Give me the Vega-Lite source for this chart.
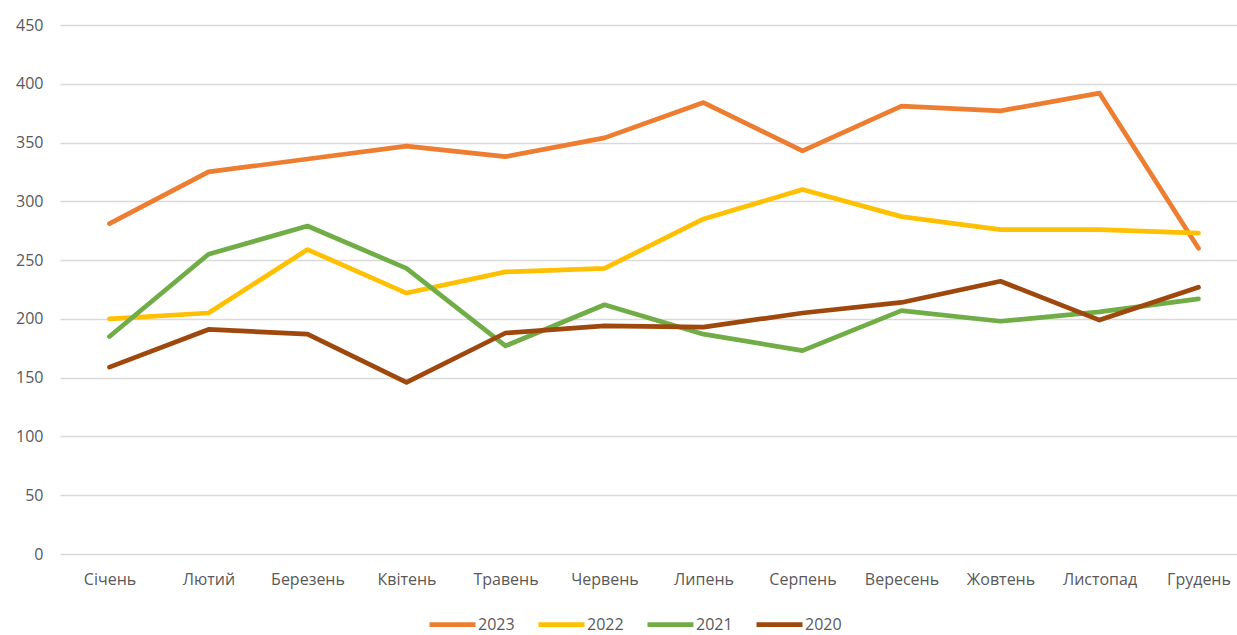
{
  "$schema": "https://vega.github.io/schema/vega-lite/v6.json",
  "autosize": "none",
  "width": 1188,
  "height": 529,
  "padding": {"left": 60, "top": 25, "right": 0, "bottom": 81},
  "background": "#ffffff",
  "config": {
    "view": {"stroke": null},
    "font": "Open Sans",
    "axis": {"labelFont": "Open Sans", "labelColor": "#595959", "labelFontSize": 16}
  },
  "data": {
    "values": [
      {"month": "Січень", "year": "2023", "value": 281},
      {"month": "Лютий", "year": "2023", "value": 325},
      {"month": "Березень", "year": "2023", "value": 336},
      {"month": "Квітень", "year": "2023", "value": 347},
      {"month": "Травень", "year": "2023", "value": 338},
      {"month": "Червень", "year": "2023", "value": 354},
      {"month": "Липень", "year": "2023", "value": 384},
      {"month": "Серпень", "year": "2023", "value": 343},
      {"month": "Вересень", "year": "2023", "value": 381},
      {"month": "Жовтень", "year": "2023", "value": 377},
      {"month": "Листопад", "year": "2023", "value": 392},
      {"month": "Грудень", "year": "2023", "value": 260},

      {"month": "Січень", "year": "2022", "value": 200},
      {"month": "Лютий", "year": "2022", "value": 205},
      {"month": "Березень", "year": "2022", "value": 259},
      {"month": "Квітень", "year": "2022", "value": 222},
      {"month": "Травень", "year": "2022", "value": 240},
      {"month": "Червень", "year": "2022", "value": 243},
      {"month": "Липень", "year": "2022", "value": 285},
      {"month": "Серпень", "year": "2022", "value": 310},
      {"month": "Вересень", "year": "2022", "value": 287},
      {"month": "Жовтень", "year": "2022", "value": 276},
      {"month": "Листопад", "year": "2022", "value": 276},
      {"month": "Грудень", "year": "2022", "value": 273},

      {"month": "Січень", "year": "2021", "value": 185},
      {"month": "Лютий", "year": "2021", "value": 255},
      {"month": "Березень", "year": "2021", "value": 279},
      {"month": "Квітень", "year": "2021", "value": 243},
      {"month": "Травень", "year": "2021", "value": 177},
      {"month": "Червень", "year": "2021", "value": 212},
      {"month": "Липень", "year": "2021", "value": 187},
      {"month": "Серпень", "year": "2021", "value": 173},
      {"month": "Вересень", "year": "2021", "value": 207},
      {"month": "Жовтень", "year": "2021", "value": 198},
      {"month": "Листопад", "year": "2021", "value": 206},
      {"month": "Грудень", "year": "2021", "value": 217},

      {"month": "Січень", "year": "2020", "value": 159},
      {"month": "Лютий", "year": "2020", "value": 191},
      {"month": "Березень", "year": "2020", "value": 187},
      {"month": "Квітень", "year": "2020", "value": 146},
      {"month": "Травень", "year": "2020", "value": 188},
      {"month": "Червень", "year": "2020", "value": 194},
      {"month": "Липень", "year": "2020", "value": 193},
      {"month": "Серпень", "year": "2020", "value": 205},
      {"month": "Вересень", "year": "2020", "value": 214},
      {"month": "Жовтень", "year": "2020", "value": 232},
      {"month": "Листопад", "year": "2020", "value": 199},
      {"month": "Грудень", "year": "2020", "value": 227}
    ]
  },
  "mark": {"type": "line", "strokeWidth": 4.7, "strokeCap": "round", "strokeJoin": "round"},
  "encoding": {
    "x": {
      "field": "month",
      "type": "nominal",
      "sort": null,
      "scale": {"type": "point", "padding": 0.5},
      "axis": {
        "title": null,
        "labelAngle": 0,
        "ticks": false,
        "domain": false,
        "grid": false,
        "labelPadding": 17
      }
    },
    "y": {
      "field": "value",
      "type": "quantitative",
      "scale": {"domain": [0, 450], "nice": false},
      "axis": {
        "title": null,
        "values": [0, 50, 100, 150, 200, 250, 300, 350, 400, 450],
        "ticks": false,
        "domain": false,
        "gridColor": "#d9d9d9",
        "gridWidth": 1.3,
        "labelPadding": 17
      }
    },
    "color": {
      "field": "year",
      "type": "nominal",
      "sort": ["2023", "2022", "2021", "2020"],
      "scale": {
        "domain": ["2023", "2022", "2021", "2020"],
        "range": ["#ED7D31", "#FFC000", "#70AD47", "#9E480E"]
      },
      "legend": {
        "title": null,
        "orient": "none",
        "direction": "horizontal",
        "legendX": 367,
        "legendY": 574,
        "padding": 0,
        "symbolType": "M-1,0H1",
        "symbolSize": 2116,
        "symbolStrokeWidth": 4.7,
        "labelFont": "Open Sans",
        "labelFontSize": 16,
        "labelColor": "#595959",
        "labelOffset": 0,
        "columnPadding": 14
      }
    }
  }
}
